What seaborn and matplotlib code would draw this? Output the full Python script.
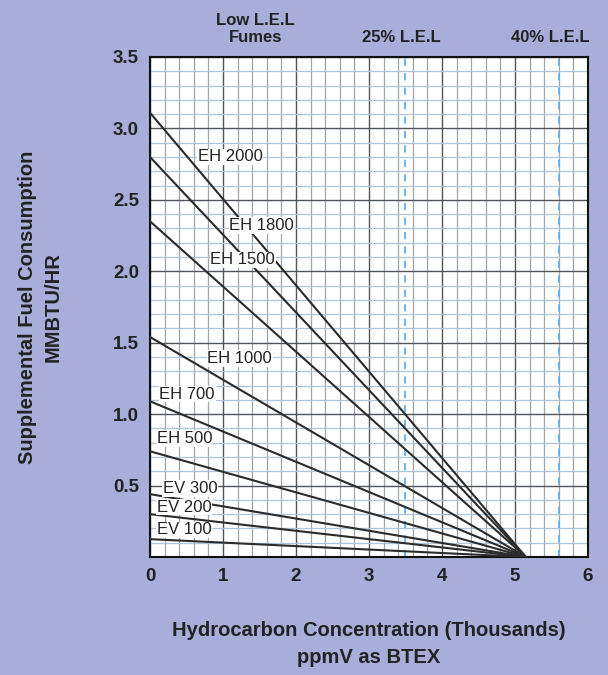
import numpy as np
import pandas as pd
import matplotlib
matplotlib.use("Agg")
import matplotlib.pyplot as plt
import seaborn as sns
from matplotlib.ticker import MultipleLocator

# ── Data ─────────────────────────────────────────────────────
models = ["EH 2000", "EH 1800", "EH 1500", "EH 1000", "EH 700",
          "EH 500", "EV 300", "EV 200", "EV 100"]
fuel_at_zero = [3.11, 2.80, 2.35, 1.54, 1.09, 0.74, 0.44, 0.30, 0.125]
zero_fuel_conc = 5.15          # thousands ppmV where all lines meet
label_x = [1.10, 1.53, 1.27, 1.23, 0.51, 0.47, 0.55, 0.47, 0.47]
label_y = [2.80, 2.32, 2.08, 1.39, 1.14, 0.83, 0.48, 0.35, 0.19]
lel_marks = [3.5, 5.6]
top_labels = ["Low L.E.L\nFumes", "25% L.E.L", "40% L.E.L"]
top_label_x = [1.44, 3.45, 5.48]

rows = []
for m, y0 in zip(models, fuel_at_zero):
    rows.append({"model": m, "conc": 0.0, "fuel": y0})
    rows.append({"model": m, "conc": zero_fuel_conc, "fuel": 0.0})
df = pd.DataFrame(rows)

# ── Style ─────────────────────────────────────────────────────
sns.set_theme(style="white")
plt.rcParams["font.family"] = ["Liberation Sans", "DejaVu Sans"]
bg = "#a8add9"
ink = "#222222"

fig = plt.figure(figsize=(6.08, 6.75), dpi=100, facecolor=bg)
ax = fig.add_axes([0.2467, 0.1748, 0.7203, 0.7408])
ax.set_facecolor("white")

ax.set_xlim(0, 6)
ax.set_ylim(0, 3.5)
ax.xaxis.set_major_locator(MultipleLocator(1))
ax.xaxis.set_minor_locator(MultipleLocator(0.2))
ax.yaxis.set_major_locator(MultipleLocator(0.5))
ax.yaxis.set_minor_locator(MultipleLocator(0.1))
ax.grid(which="minor", axis="x", color="#9ea6b2", linewidth=0.9)
ax.grid(which="minor", axis="y", color="#afc6da", linewidth=0.9)
ax.grid(which="major", color="#50555c", linewidth=1.0)
ax.set_axisbelow(True)

for x in lel_marks:
    ax.axvline(x, color="#5fb0f0", linestyle=(0, (4, 4)), linewidth=1.3, zorder=1.5)

sns.lineplot(data=df, x="conc", y="fuel", units="model", estimator=None,
             color="#2b2b2b", linewidth=1.5, ax=ax, zorder=3)

for name, lx, ly in zip(models, label_x, label_y):
    ax.text(lx, ly, name, ha="center", va="center", fontsize=12, color=ink,
            zorder=4, bbox=dict(facecolor="white", edgecolor="none", pad=0.5))

for txt, tx in zip(top_labels, top_label_x):
    ax.text(tx, 3.585, txt, ha="center", va="bottom", fontsize=12,
            fontweight="bold", color=ink, linespacing=1.15)

for s in ax.spines.values():
    s.set_color("#111111")
    s.set_linewidth(1.5)

ax.tick_params(which="both", length=0, labelsize=13.5, colors=ink, pad=8)
ax.set_xticks(range(0, 7))
ax.set_yticks([0.5, 1.0, 1.5, 2.0, 2.5, 3.0, 3.5])
ax.set_yticklabels(["0.5", "1.0", "1.5", "2.0", "2.5", "3.0", "3.5"])
for lab in ax.get_xticklabels() + ax.get_yticklabels():
    lab.set_fontweight("bold")

ax.set_xlabel("Hydrocarbon Concentration (Thousands)\nppmV as BTEX",
              fontsize=14.5, fontweight="bold", color=ink, labelpad=26, linespacing=1.55)
ax.set_ylabel("Supplemental Fuel Consumption\nMMBTU/HR",
              fontsize=14.5, fontweight="bold", color=ink, labelpad=36, linespacing=1.45)
if ax.get_legend():
    ax.get_legend().remove()

fig.savefig("out.png", dpi=100, facecolor=bg)
